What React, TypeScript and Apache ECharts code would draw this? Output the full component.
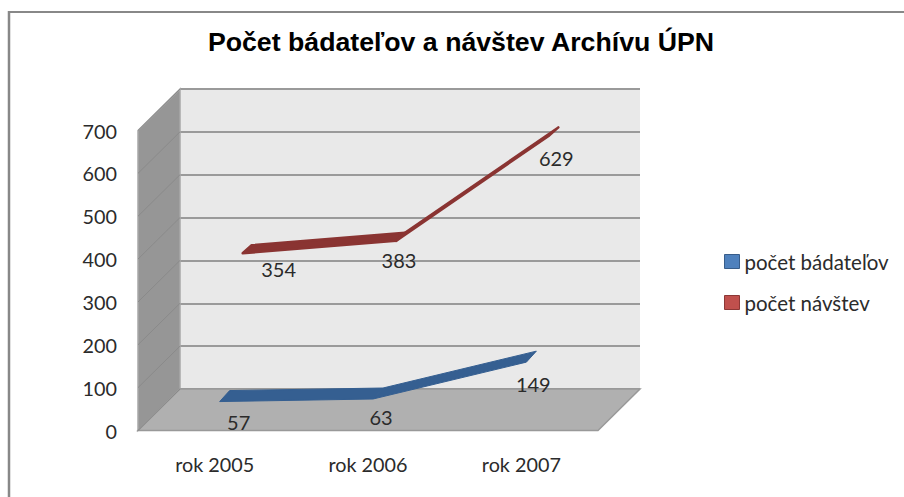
import React, { useEffect, useRef } from "react";
import * as echarts from "echarts";

const titleText = "Počet bádateľov a návštev Archívu ÚPN";
const categories = ["rok 2005", "rok 2006", "rok 2007"];
const researchersName = "počet bádateľov";
const visitsName = "počet návštev";
const researchers = [57, 63, 149];
const visits = [354, 383, 629];
const yTicks = [0, 100, 200, 300, 400, 500, 600, 700];

// 3D projection of the depth axis (pixels, relative to the back wall)
const DEPTH: [number, number] = [-42, 41.5];
const ribbonDepth = {
  visits: { back: [-5, 8], front: [-14, 16], stroke: 2.5 },
  researchers: { back: [-27, 26], front: [-37, 37], stroke: 1 },
};
// label offsets from each ribbon point's front edge
const visitsLabelNudge = [[36, 16], [3, 19], [7, 23]];
const researchersLabelNudge = [[19, 20], [8, 18], [7, 22]];

const FONT = "Lato";

function ribbonSeries(name: string, values: number[], depth: any, nudge: number[][], color: string) {
  return {
    type: "custom",
    name,
    xAxisIndex: 0,
    yAxisIndex: 0,
    z: 5,
    clip: false,
    itemStyle: { color },
    data: values.map((v, i) => [i, v]),
    encode: { x: 0, y: 1 },
    renderItem: (params: any, api: any) => {
      const i = params.dataIndex;
      const children: any[] = [];
      const p = api.coord([i, values[i]]);
      if (i < values.length - 1) {
        const q = api.coord([i + 1, values[i + 1]]);
        children.push({
          type: "polygon",
          shape: {
            points: [
              [p[0] + depth.back[0], p[1] + depth.back[1]],
              [q[0] + depth.back[0], q[1] + depth.back[1]],
              [q[0] + depth.front[0], q[1] + depth.front[1]],
              [p[0] + depth.front[0], p[1] + depth.front[1]],
            ],
          },
          style: { fill: color, stroke: color, lineWidth: depth.stroke, lineJoin: "round" },
        });
      }
      children.push({
        type: "text",
        z2: 10,
        style: {
          text: String(values[i]),
          x: p[0] + depth.front[0] + nudge[i][0],
          y: p[1] + depth.front[1] + nudge[i][1],
          align: "center",
          verticalAlign: "middle",
          fontFamily: FONT,
          fontSize: 20,
          fill: "#2b2b2b",
        },
      });
      return { type: "group", children };
    },
  };
}

export default function App() {
  const ref = useRef<HTMLDivElement>(null);
  useEffect(() => {
    const chart = echarts.init(ref.current!, null, { renderer: "svg" });
    chart.setOption({
      animation: false,
      backgroundColor: "#ffffff",
      title: {
        text: titleText,
        left: 456,
        top: 23,
        textAlign: "center",
        textStyle: { fontFamily: "Liberation Sans", fontSize: 26.7, fontWeight: "bold", color: "#000000" },
      },
      legend: {
        orient: "vertical",
        left: 719,
        top: 246,
        itemWidth: 15,
        itemHeight: 14,
        itemGap: 20,
        textStyle: { fontFamily: FONT, fontSize: 20.5, color: "#2b2b2b" },
        data: [
          { name: researchersName, icon: "rect", itemStyle: { color: "#4f81bd", borderColor: "#385d8a", borderWidth: 1 } },
          { name: visitsName, icon: "rect", itemStyle: { color: "#c0504d", borderColor: "#8c3836", borderWidth: 1 } },
        ],
      },
      grid: [
        { left: 180, top: 89, width: 460, height: 300, show: true, backgroundColor: "#e9e9e9", borderWidth: 0 },
        { left: 138, top: 130.5, width: 460, height: 300, show: false },
      ],
      xAxis: [
        { type: "category", gridIndex: 0, data: categories, show: false },
        {
          type: "category",
          gridIndex: 1,
          data: categories,
          axisLine: { show: false },
          axisTick: { show: false },
          axisLabel: { margin: 23, fontFamily: FONT, fontSize: 19.8, color: "#2b2b2b" },
        },
      ],
      yAxis: [
        {
          type: "value",
          gridIndex: 0,
          min: 0,
          max: 700,
          interval: 100,
          axisLine: { show: false },
          axisTick: { show: false },
          axisLabel: { show: false },
          splitLine: { show: true, lineStyle: { color: "#9a9a9a", width: 2 } },
        },
        {
          type: "value",
          gridIndex: 1,
          min: 0,
          max: 700,
          interval: 100,
          axisLine: { show: false },
          axisTick: { show: false },
          splitLine: { show: false },
          axisLabel: { margin: 21, fontFamily: FONT, fontSize: 19.8, color: "#2b2b2b" },
        },
      ],
      series: [
        {
          type: "custom",
          name: "walls",
          xAxisIndex: 0,
          yAxisIndex: 0,
          z: 1,
          silent: true,
          clip: false,
          data: [[0, 0]],
          renderItem: (params: any) => {
            const { x, y, width, height } = params.coordSys;
            const b = y + height;
            const r = x + width;
            return {
              type: "group",
              children: [
                {
                  type: "polygon",
                  shape: { points: [[x, y], [x, b], [x + DEPTH[0], b + DEPTH[1]], [x + DEPTH[0], y + DEPTH[1]]] },
                  style: { fill: "#969696", stroke: "#a8a8a8", lineWidth: 1.5 },
                },
                {
                  type: "polygon",
                  shape: { points: [[x, b], [r, b], [r + DEPTH[0], b + DEPTH[1]], [x + DEPTH[0], b + DEPTH[1]]] },
                  style: { fill: "#b0b0b0", stroke: "#999999", lineWidth: 1.5 },
                },
              ],
            };
          },
        },
        {
          type: "custom",
          name: "wallLines",
          xAxisIndex: 0,
          yAxisIndex: 0,
          z: 2,
          silent: true,
          clip: false,
          data: yTicks.map((t) => [0, t]),
          renderItem: (params: any, api: any) => {
            const py = api.coord([0, yTicks[params.dataIndex]])[1];
            const x = params.coordSys.x;
            return {
              type: "line",
              shape: { x1: x, y1: py, x2: x + DEPTH[0], y2: py + DEPTH[1] },
              style: { stroke: "#8a8a8a", lineWidth: 1 },
            };
          },
        },
        ribbonSeries(researchersName, researchers, ribbonDepth.researchers, researchersLabelNudge, "#355f91"),
        ribbonSeries(visitsName, visits, ribbonDepth.visits, visitsLabelNudge, "#8a3432"),
      ],
      graphic: [
        { type: "line", shape: { x1: 8, y1: 12, x2: 904, y2: 12 }, style: { stroke: "#888888", lineWidth: 2 } },
        { type: "line", shape: { x1: 9, y1: 11, x2: 9, y2: 497 }, style: { stroke: "#888888", lineWidth: 2.5 } },
      ],
    });
    return () => chart.dispose();
  }, []);
  return <div ref={ref} style={{ position: "fixed", left: 0, top: 0, width: 904, height: 497 }} />;
}
